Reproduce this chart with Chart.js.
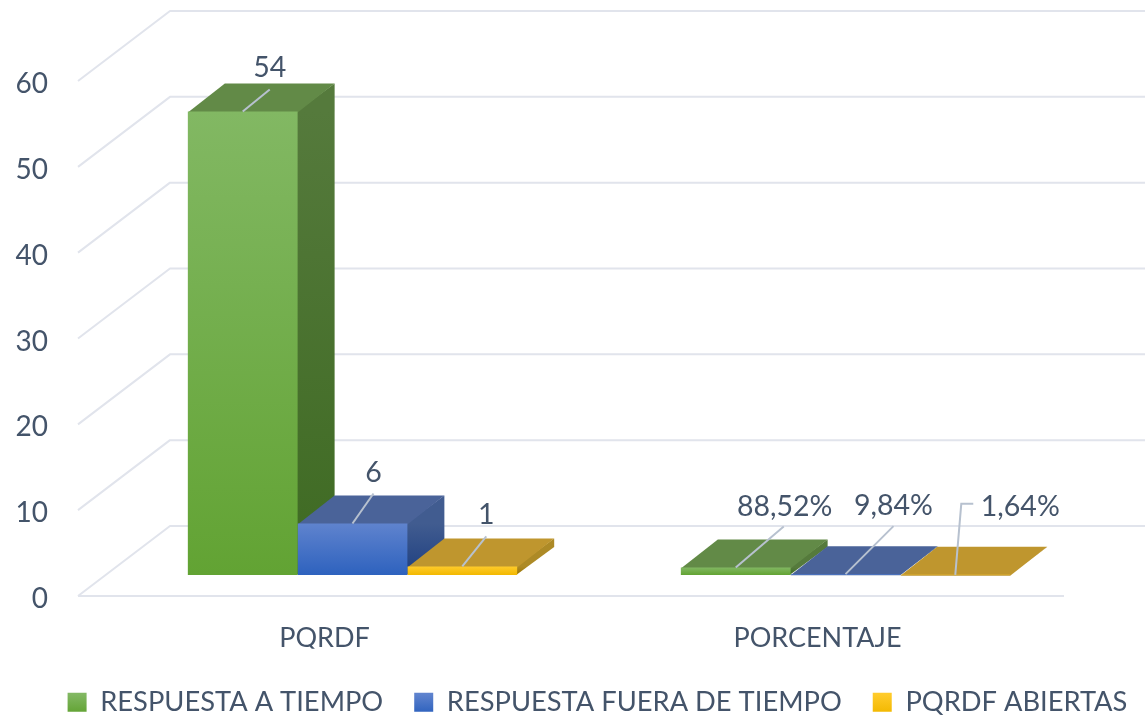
<!DOCTYPE html>
<html lang="es">
<head>
<meta charset="utf-8">
<title>PQRDF</title>
<script src="https://cdn.jsdelivr.net/npm/chart.js@4/dist/chart.umd.min.js"></script>
<style>
    html, body { margin: 0; padding: 0; background: #fff; }
    canvas { display: block; }
</style>
</head>
<body>
<canvas id="grafico" width="1145" height="717"></canvas>
<script>
const categorias = ["PQRDF", "PORCENTAJE"];
const nombresSeries = ["RESPUESTA A TIEMPO", "RESPUESTA FUERA DE TIEMPO", "PQRDF ABIERTAS"];

const respuestaATiempo = [54, 0.8852];
const respuestaFueraDeTiempo = [6, 0.0984];
const pqrdfAbiertas = [1, 0.0164];

const etiquetasATiempo = ["54", "88,52%"];
const etiquetasFueraDeTiempo = ["6", "9,84%"];
const etiquetasAbiertas = ["1", "1,64%"];

const COLOR_TEXTO = "#44546A";
const COLOR_REJILLA = "#E1E4EC";
const COLOR_GUIA = "#B7C1CF";
const FUENTE = "Lato";

// colores por cara: frente (arriba, abajo), tapa, lado (arriba, abajo)
const caras = [
    { frente: ["#82B863", "#62A333"], tapa: "#628A47", lado: ["#557A3C", "#3E6A22"] },
    { frente: ["#5F83CE", "#2E62BE"], tapa: "#4A6399", lado: ["#415C90", "#1E3F80"] },
    { frente: ["#FFCB2B", "#F2B800"], tapa: "#BF962E", lado: ["#AD8A26", "#997400"] }
];

// desplazamiento del piso: pared de fondo y plano de las barras
const FONDO = { x: 92, y: -70 };
const PLANO = { x: 28, y: -21 };
const PROF = { x: 37, y: -28 };

// guias de las etiquetas, relativas al centro superior de cada barra
const guias = [
    [{ linea: [[0, 0], [27, -22]], texto: [27, -44] }, { linea: [[0, 0], [48, -41]], texto: [49, -61] }],
    [{ linea: [[0, 0], [21, -30]], texto: [21, -51] }, { linea: [[0, 0], [48, -48]], texto: [48, -68] }],
    [{ linea: [[0, 0], [24, -30]], texto: [24, -52] }, { linea: [[0, 0], [6, -71], [18, -71]], texto: [65, -68] }]
];
const etiquetas = [etiquetasATiempo, etiquetasFueraDeTiempo, etiquetasAbiertas];

function gradienteBarra(contexto) {
    const chart = contexto.chart;
    const color = caras[contexto.datasetIndex].frente;
    if (contexto.raw === undefined || !chart.scales.y) return color[1];
    const y = chart.scales.y;
    const g = chart.ctx.createLinearGradient(0, y.getPixelForValue(contexto.raw), 0, y.getPixelForValue(0));
    g.addColorStop(0, color[0]);
    g.addColorStop(1, color[1]);
    return g;
}

const pluginPiso = {
    id: "piso",
    afterLayout(chart) {
        // la leyenda va un poco a la derecha del centro
        const leyenda = chart.legend;
        leyenda.left += 25;
        leyenda.right += 25;
        leyenda.top += 9;
        leyenda.bottom += 9;
    },
    beforeDatasetsDraw(chart) {
        const ctx = chart.ctx;
        const y = chart.scales.y;
        const area = chart.chartArea;

        ctx.save();
        ctx.strokeStyle = COLOR_REJILLA;
        ctx.lineWidth = 2;
        ctx.lineJoin = "round";
        y.ticks.forEach(t => {
            const py = y.getPixelForValue(t.value);
            ctx.beginPath();
            ctx.moveTo(area.left, py);
            ctx.lineTo(area.left + FONDO.x, py + FONDO.y);
            ctx.lineTo(area.right + FONDO.x, py + FONDO.y);
            ctx.stroke();
        });
        ctx.beginPath();
        ctx.moveTo(area.left, area.bottom);
        ctx.lineTo(area.right, area.bottom);
        ctx.stroke();
        ctx.restore();

        // tapas y lados, de izquierda a derecha para que se tapen bien
        ctx.save();
        ctx.translate(PLANO.x, PLANO.y);
        chart.data.datasets.forEach((d, i) => {
            chart.getDatasetMeta(i).data.forEach(barra => {
                const izq = barra.x - barra.width / 2;
                const der = barra.x + barra.width / 2;
                const g = ctx.createLinearGradient(0, barra.y, 0, barra.base);
                g.addColorStop(0, caras[i].lado[0]);
                g.addColorStop(1, caras[i].lado[1]);
                ctx.fillStyle = g;
                ctx.beginPath();
                ctx.moveTo(der - 1, barra.y);
                ctx.lineTo(der + PROF.x, barra.y + PROF.y);
                ctx.lineTo(der + PROF.x, barra.base + PROF.y);
                ctx.lineTo(der - 1, barra.base);
                ctx.closePath();
                ctx.fill();

                // la tapa entra 1px bajo el frente para que no quede una raya
                ctx.fillStyle = caras[i].tapa;
                ctx.beginPath();
                ctx.moveTo(izq, barra.y + 1);
                ctx.lineTo(izq + PROF.x, barra.y + PROF.y);
                ctx.lineTo(der + PROF.x, barra.y + PROF.y);
                ctx.lineTo(der, barra.y + 1);
                ctx.closePath();
                ctx.fill();
            });
        });
        ctx.restore();

        // las barras de Chart.js se pintan en el plano desplazado
        ctx.save();
        ctx.translate(PLANO.x, PLANO.y);
    },
    afterDatasetsDraw(chart) {
        const ctx = chart.ctx;
        ctx.restore();

        ctx.save();
        ctx.translate(PLANO.x, PLANO.y);
        ctx.font = "28.5px " + FUENTE;
        ctx.textAlign = "center";
        ctx.textBaseline = "middle";
        chart.data.datasets.forEach((d, i) => {
            chart.getDatasetMeta(i).data.forEach((barra, j) => {
                const guia = guias[i][j];
                ctx.strokeStyle = COLOR_GUIA;
                ctx.lineWidth = 2;
                ctx.beginPath();
                guia.linea.forEach((p, k) => {
                    if (k === 0) ctx.moveTo(barra.x + p[0], barra.y + p[1]);
                    else ctx.lineTo(barra.x + p[0], barra.y + p[1]);
                });
                ctx.stroke();
                ctx.fillStyle = COLOR_TEXTO;
                ctx.fillText(etiquetas[i][j], barra.x + guia.texto[0], barra.y + guia.texto[1]);
            });
        });
        ctx.restore();
    }
};

function crearSerie(nombre, valores) {
    return {
        label: nombre,
        data: valores,
        backgroundColor: gradienteBarra,
        borderWidth: 0,
        categoryPercentage: 0.668,
        barPercentage: 1
    };
}

new Chart(document.getElementById("grafico"), {
    type: "bar",
    data: {
        labels: categorias,
        datasets: [
            crearSerie(nombresSeries[0], respuestaATiempo),
            crearSerie(nombresSeries[1], respuestaFueraDeTiempo),
            crearSerie(nombresSeries[2], pqrdfAbiertas)
        ]
    },
    plugins: [pluginPiso],
    options: {
        responsive: false,
        animation: false,
        layout: { padding: { top: 81 } },
        scales: {
            x: {
                grid: { display: false, drawTicks: false },
                border: { display: false },
                ticks: { color: COLOR_TEXTO, font: { family: FUENTE, size: 27 }, padding: 26, maxRotation: 0 },
                afterFit(eje) { eje.height = 121 - eje.chart.legend.height; }
            },
            y: {
                min: 0,
                max: 60,
                grid: { display: false, drawTicks: false },
                border: { display: false },
                ticks: { stepSize: 10, color: COLOR_TEXTO, font: { family: FUENTE, size: 28 }, padding: 30, labelOffset: 3 },
                afterFit(eje) { eje.width = 78; }
            },
            // eje vacio: solo reserva el margen derecho sin estrechar la leyenda
            margen: {
                position: "right",
                grid: { display: false, drawTicks: false },
                border: { display: false },
                ticks: { display: false },
                afterFit(eje) { eje.width = 81; }
            }
        },
        plugins: {
            tooltip: { enabled: false },
            legend: {
                position: "bottom",
                labels: {
                    color: COLOR_TEXTO,
                    font: { family: FUENTE, size: 27.3 },
                    boxWidth: 19,
                    boxHeight: 19,
                    padding: 31,
                    generateLabels(chart) {
                        return chart.data.datasets.map((d, i) => {
                            const g = chart.ctx.createLinearGradient(0, 694, 0, 713);
                            g.addColorStop(0, caras[i].frente[0]);
                            g.addColorStop(1, caras[i].frente[1]);
                            return { text: d.label, fillStyle: g, lineWidth: 0, strokeStyle: "transparent", fontColor: COLOR_TEXTO, datasetIndex: i };
                        });
                    }
                }
            }
        }
    }
});
</script>
</body>
</html>
